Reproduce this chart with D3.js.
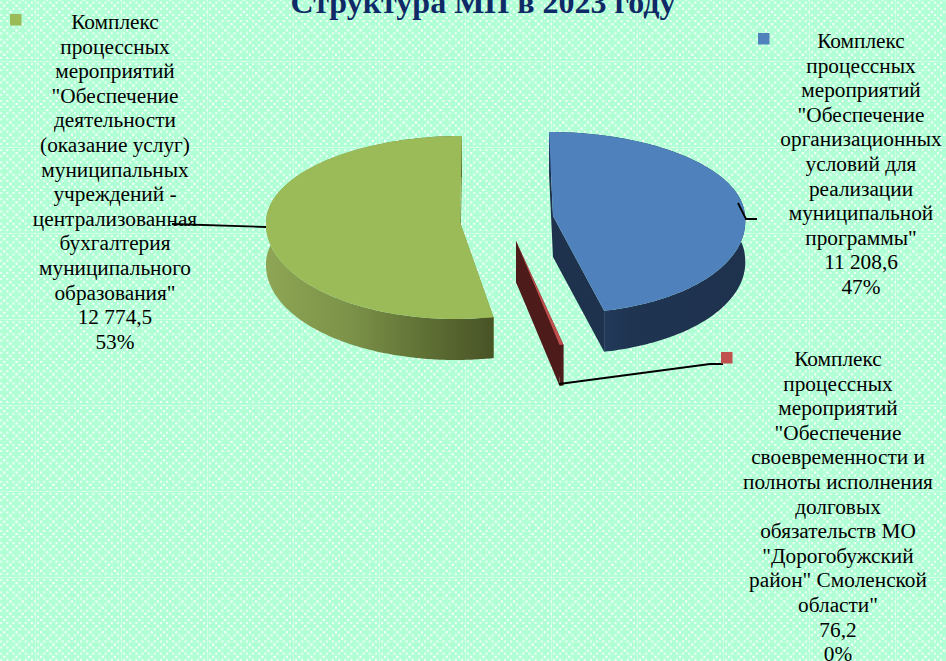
<!DOCTYPE html>
<html lang="ru">
<head>
<meta charset="utf-8">
<script src="https://cdn.jsdelivr.net/npm/d3@7"></script>
<style>
html,body{margin:0;padding:0;background:#bdffdc;overflow:hidden}
svg{display:block}
text{font-family:"Liberation Serif","Times New Roman",serif}
</style>
</head>
<body>
<svg id="c" width="946" height="661"></svg>
<script>
const chartTitle = "Структура МП в 2023 году";
const categories = [
  ["Комплекс","процессных","мероприятий","\"Обеспечение","организационных","условий для","реализации","муниципальной","программы\""],
  ["Комплекс","процессных","мероприятий","\"Обеспечение","своевременности и","полноты исполнения","долговых","обязательств МО","\"Дорогобужский","район\" Смоленской","области\""],
  ["Комплекс","процессных","мероприятий","\"Обеспечение","деятельности","(оказание услуг)","муниципальных","учреждений -","централизованная","бухгалтерия","муниципального","образования\""]
];
const values = [11208.6, 76.2, 12774.5];
const valueLabels = ["11 208,6", "76,2", "12 774,5"];
const percentLabels = ["47%", "0%", "53%"];
const topColors = ["#4f81bd", "#c0504d", "#9bbb59"];

// layout, separate from the data
const W = 946, H = 661, DEPTH = 41, LINE = 24.6;
const geom = [
  {cx:553, cy:216, rx:192, back:84, front:97, skew:10.5, backSkew:-4},
  {cx:516, cy:241, rx:195, back:84, front:106, skew:6},
  {cx:460, cy:222, rx:194, back:86, front:97, skew:-4, backSkew:2}
];
const labelPos = [{x:861, y:48},{x:838, y:366},{x:115, y:29}];
const keyPos = [{x:758, y:33},{x:721, y:352},{x:10, y:14}];
const leaders = [
  [[738,203],[746,219],[757,219]],
  [[559,384],[710,364],[723,364]],
  [[172,224],[266,227]]
];

const svg = d3.select("#c");
const defs = svg.append("defs");

// tiled wallpaper: a diamond lattice of soft dots with a faint seam at each tile edge
const TILE = 86, CELLS = 7, step = TILE / CELLS, DOTS = 4;
const pat = defs.append("pattern").attr("id","bg").attr("patternUnits","userSpaceOnUse")
  .attr("width",TILE).attr("height",TILE).attr("x",35).attr("y",61);
pat.append("rect").attr("width",TILE).attr("height",TILE).attr("fill","#b0ffd5");
d3.range(CELLS).forEach(r => d3.range(CELLS).forEach(c => {
  d3.range(DOTS).forEach(k => {
    const t = k * step / DOTS;
    [[c*step + t, r*step + t], [c*step + step - t, r*step + t]].forEach(p => {
      pat.append("rect").attr("x",p[0]-1).attr("y",p[1]-1).attr("width",2).attr("height",2)
        .attr("fill","#f6fffa").attr("fill-opacity",.9);
    });
  });
}));
pat.append("path").attr("d",`M0 0.5H${TILE}M0.5 0V${TILE}`).attr("stroke","#eafff3").attr("stroke-opacity",.5).attr("fill","none");
svg.append("rect").attr("width",W).attr("height",H).attr("fill","url(#bg)");

// gradients of the outer walls
function grad(id, stops, x1, x2){
  const g = defs.append("linearGradient").attr("id",id).attr("gradientUnits","userSpaceOnUse")
    .attr("x1",x1).attr("x2",x2).attr("y1",0).attr("y2",0);
  stops.forEach(s => g.append("stop").attr("offset",s[0]).attr("stop-color",s[1]));
}
grad("wall2",[[0,"#8da554"],[.35,"#7d9349"],[.7,"#5f7035"],[1,"#485326"]],268,493);
grad("wall0",[[0,"#233a5c"],[.2,"#1f3451"],[1,"#1e324e"]],602,745);

const arcs = d3.pie().sort(null).value(d => d).startAngle(0).endAngle(2*Math.PI)(values);

function pt(g, a){
  const u = Math.sin(a), c = -Math.cos(a), ry = c > 0 ? g.front : g.back;
  const sk = c > 0 ? g.skew : (g.backSkew || 0);
  return [g.cx + g.rx*u + sk*Math.abs(c), g.cy + ry*c];
}
const poly = d3.line();
const outline = (g, a) => {
  const n = Math.max(2, Math.ceil((a.endAngle - a.startAngle) / 0.02));
  return d3.range(n + 1).map(i => pt(g, a.startAngle + (a.endAngle - a.startAngle)*i/n));
};
const wallColors = ["#1e324e", "#4d1c1a", "#6e8a3d"];
const inner = ["#1e324e", "#4d1c1a", "#7f9a48"];

// draw walls first, tops after; each slice independently since they are exploded
arcs.forEach((a, i) => {
  const g = geom[i], o = [g.cx, g.cy], rim = outline(g, a);
  const low = p => [p[0], p[1] + DEPTH];
  const layer = svg.append("g");
  [rim[0], rim[rim.length-1]].forEach(p => {
    layer.append("path").attr("d", poly([o, p, low(p), low(o)]) + "Z").attr("fill", inner[i]);
  });
  const wall = i === 2 ? "url(#wall2)" : i === 0 ? "url(#wall0)" : wallColors[i];
  layer.append("path").attr("d", poly(rim.concat(rim.map(low).reverse())) + "Z").attr("fill", wall);
  layer.append("path").attr("d", poly([o].concat(rim)) + "Z").attr("fill", topColors[i]);
});

// leader lines
svg.selectAll("path.leader").data(leaders).join("path").attr("class","leader")
  .attr("d", d => poly(d)).attr("fill","none").attr("stroke","#000").attr("stroke-width",1.8);

// legend keys
svg.selectAll("rect.key").data(topColors).join("rect").attr("class","key")
  .attr("x",(d,i)=>keyPos[i].x).attr("y",(d,i)=>keyPos[i].y)
  .attr("width",11.5).attr("height",11.5).attr("fill",d=>d);

// labels
categories.forEach((lines, i) => {
  const all = lines.concat([valueLabels[i], percentLabels[i]]);
  svg.append("text").attr("text-anchor","middle").attr("font-size",21.3).attr("fill","#000")
    .selectAll("tspan").data(all).join("tspan")
    .attr("x",labelPos[i].x).attr("y",(d,j)=>labelPos[i].y + j*LINE).text(d=>d);
});

// title
svg.append("text").attr("x",483).attr("y",13).attr("text-anchor","middle")
  .attr("font-size",32).attr("font-weight","bold").attr("fill","#0f2a66").text(chartTitle);
</script>
</body>
</html>
